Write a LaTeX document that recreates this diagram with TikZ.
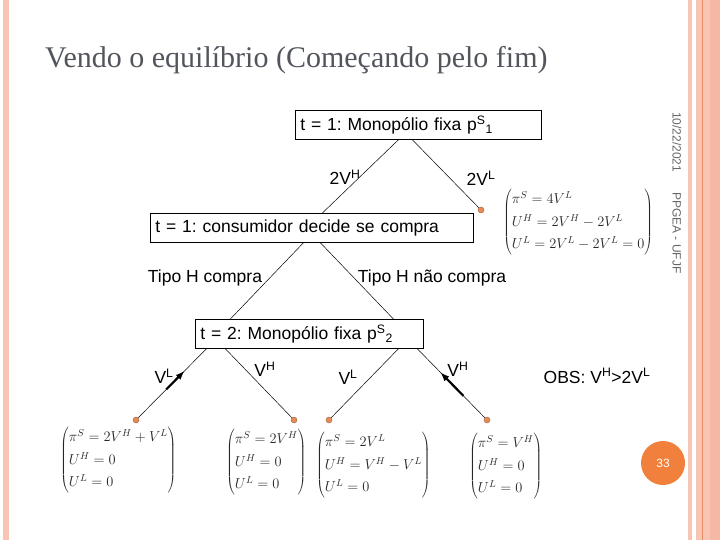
\documentclass[tikz,border=0pt]{standalone}
\usepackage{fontspec}
\setmainfont{Liberation Serif}
\setsansfont{Liberation Sans}
\usetikzlibrary{arrows.meta,calc}
\frenchspacing
\definecolor{salmon}{RGB}{248,197,180}
\definecolor{salmondeep}{RGB}{244,184,164}
\definecolor{rule}{RGB}{232,140,100}
\definecolor{leaf}{RGB}{230,138,86}
\definecolor{badge}{RGB}{240,128,60}
\definecolor{titlegrey}{RGB}{82,86,92}
\newcommand{\payoff}[3]{$\renewcommand{\arraystretch}{1.32}\left(\begin{array}{@{}l@{}}#1\\#2\\#3\end{array}\right)$}

\begin{document}
\begin{tikzpicture}[x=1pt,y=-1pt,
  stage/.style={draw=black,line width=0.8pt,font=\sffamily\fontsize{17.5}{19}\selectfont,
    inner xsep=5pt,inner ysep=0pt,minimum height=29pt,anchor=north west},
  move/.style={draw=black,line width=0.5pt},
  choice/.style={font=\sffamily\fontsize{17.5}{19}\selectfont},
  leafdot/.style={circle,fill=leaf,draw=leaf!70!black,line width=0.4pt,inner sep=0pt,minimum size=6pt},
  payoffbox/.style={font=\fontsize{14.4}{17}\selectfont,text=black!85,inner sep=0pt,anchor=north west},
  best/.style={-{Latex[length=3.2mm,width=2.4mm]},line width=2.2pt},
]
\useasboundingbox (0,0) rectangle (720,540);

% slide frame
\fill[salmon] (3,0) rectangle (9,540);
\fill[salmon] (688,0) rectangle (692,540);
\fill[salmon] (696,0) rectangle (710,540);
\fill[salmondeep] (710,0) rectangle (720,540);
\draw[rule,line width=1.2pt] (702.5,0) -- (702.5,540);

\node[anchor=base west,inner sep=0pt,text=titlegrey,font=\fontsize{30}{32}\selectfont] (title) at (45,68)
  {Vendo o equilíbrio (Começando pelo fim)};
\node[anchor=west,rotate=-90,inner sep=0pt,text=black!60,font=\sffamily\fontsize{12}{13}\selectfont] (footer) at (677,112)
  {10/22/2021\hspace{20pt}PPGEA - UFJF};

% stages
\node[stage,text width=236pt] (mono1) at (295,110) {t = 1: Monopólio fixa p\textsuperscript{S}\textsubscript{1}};
\node[stage,text width=313pt] (cons) at (150,213) {t = 1: consumidor decide se compra};
\node[stage,text width=218pt] (mono2) at (195,319) {t = 2: Monopólio fixa p\textsuperscript{S}\textsubscript{2}};

% terminal nodes
\node[leafdot] (d0) at (481,210) {};
\node[leafdot] (d1) at (136,420) {};
\node[leafdot] (d2) at (294,420) {};
\node[leafdot] (d3) at (329,420) {};
\node[leafdot] (d4) at (487,420) {};

% branches
\draw[move] ([xshift=-20pt]mono1.south) -- ([xshift=10.5pt]cons.north);
\draw[move] ([xshift=-6pt]mono1.south) -- (d0);
\draw[move] ([xshift=-8.5pt]cons.south) -- ([xshift=-79pt]mono2.north);
\draw[move] ([xshift=8.5pt]cons.south) -- ([xshift=84pt]mono2.north);
\coordinate (b1) at ([xshift=-103pt]mono2.south);
\coordinate (b4) at ([xshift=108pt]mono2.south);
\draw[move] (b1) -- (d1);
\draw[move] ([xshift=-84pt]mono2.south) -- (d2);
\draw[move] ([xshift=89pt]mono2.south) -- (d3);
\draw[move] (b4) -- (d4);
\draw[best] ($(d1)!0.43!(b1)$) -- ($(d1)!0.69!(b1)$);
\draw[best] ($(d4)!0.34!(b4)$) -- ($(d4)!0.67!(b4)$);

% branch labels
\node[choice] (l2vh) at (345,177) {2V\textsuperscript{H}};
\node[choice] (l2vl) at (481,178) {2V\textsuperscript{L}};
\node[choice] (lbuy) at (205,278) {Tipo H compra};
\node[choice] (lnobuy) at (432,278) {Tipo H não compra};
\node[choice] (lvl1) at (164,376) {V\textsuperscript{L}};
\node[choice] (lvh1) at (265,369) {V\textsuperscript{H}};
\node[choice] (lvl2) at (348,377) {V\textsuperscript{L}};
\node[choice] (lvh2) at (458,369) {V\textsuperscript{H}};
\node[choice] (obs) at (597,376) {OBS: V\textsuperscript{H}>2V\textsuperscript{L}};

% payoffs
\node[payoffbox] (p0) at (503,188) {\payoff{\pi^S=4V^L}{U^H=2V^H-2V^L}{U^L=2V^L-2V^L=0}};
\node[payoffbox] (p1) at (60,426) {\payoff{\pi^S=2V^H+V^L}{U^H=0}{U^L=0}};
\node[payoffbox] (p2) at (226,428) {\payoff{\pi^S=2V^H}{U^H=0}{U^L=0}};
\node[payoffbox] (p3) at (316,431) {\payoff{\pi^S=2V^L}{U^H=V^H-V^L}{U^L=0}};
\node[payoffbox] (p4) at (469,432) {\payoff{\pi^S=V^H}{U^H=0}{U^L=0}};

\node[circle,fill=badge,minimum size=44pt,inner sep=0pt,text=white,font=\sffamily\fontsize{12}{13}\selectfont] (page) at (663,463) {33};
\end{tikzpicture}
\end{document}
